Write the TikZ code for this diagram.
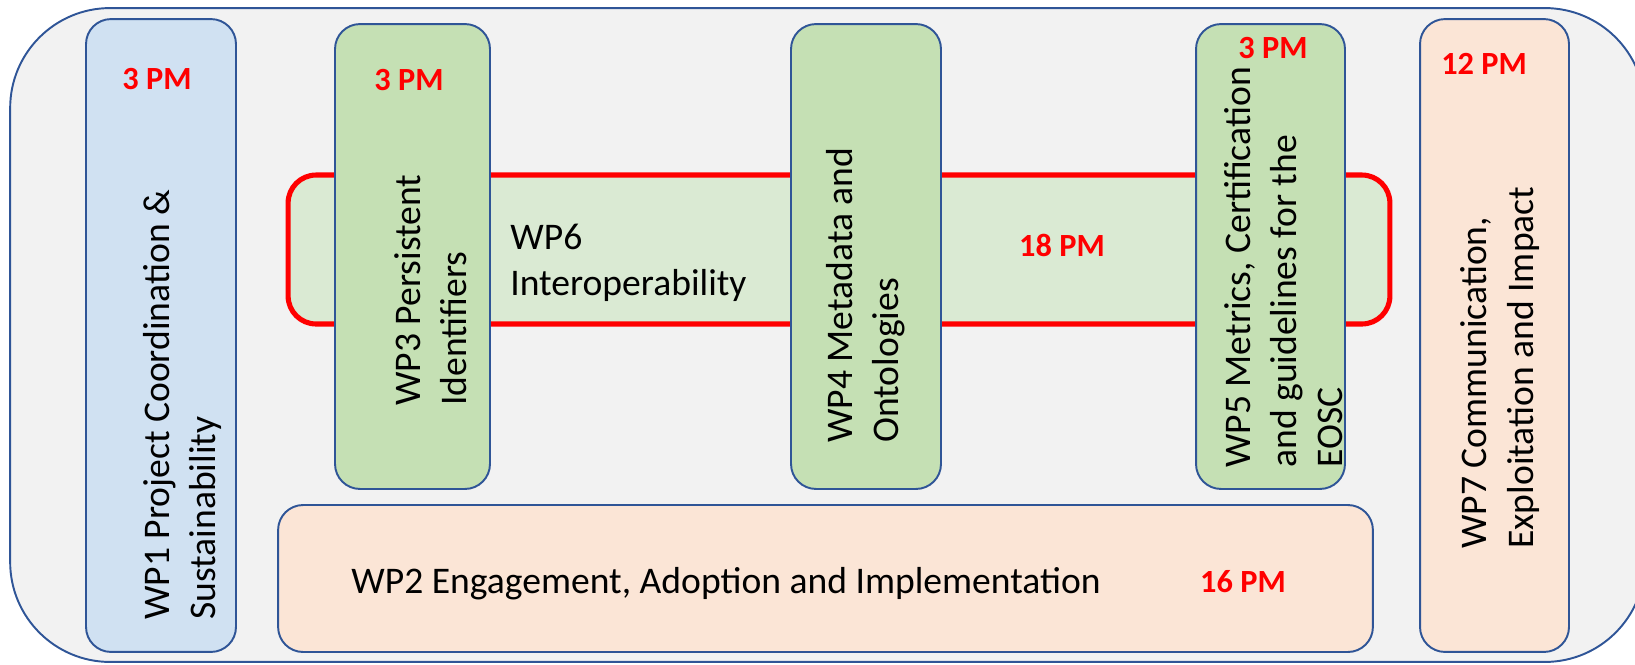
\documentclass[tikz,border=0pt]{standalone}
\usepackage{fontspec}
\setmainfont{Carlito}
\usetikzlibrary{positioning}
\definecolor{wpline}{RGB}{47,85,151}
\definecolor{wpback}{RGB}{242,242,242}
\definecolor{wpblue}{RGB}{208,225,242}
\definecolor{wpgreen}{RGB}{197,224,180}
\definecolor{wplight}{RGB}{218,234,211}
\definecolor{wporange}{RGB}{251,229,214}
\tikzset{
    wpbox/.style={
    rectangle,rounded corners=0.5cm,draw=wpline,line width=1.1pt,inner sep=0pt
    },
    wpframe/.style={
    rectangle,rounded corners=0.56cm,draw=red,line width=2.9pt,inner sep=0pt,fill=wplight
    },
    wptext/.style={
    inner sep=0pt,align=left,font=\fontsize{21.4}{26.2}\selectfont
    },
    vtext/.style={
    wptext,rotate=90,anchor=west
    },
    pm/.style={
    inner sep=0pt,text=red,font=\fontsize{18.4}{22}\selectfont\bfseries
    },
}
\begin{document}
\begin{tikzpicture}[x=0.02cm,y=-0.02cm]
  \useasboundingbox (0,0) rectangle (1635,664);
  \clip (0,0) rectangle (1635,664);
  % frame round everything
  \node[wpbox,fill=wpback,rounded corners=2cm,minimum width=32.7cm,minimum height=13.08cm] (all) at (827.5,335) {};
  % side packages
  \node[wpbox,fill=wpblue,minimum width=3cm,minimum height=12.66cm] (wp1) at (161,335.5) {};
  \node[wpbox,fill=wporange,minimum width=2.98cm,minimum height=12.66cm] (wp7) at (1494.5,335.5) {};
  \node[wpbox,fill=wporange,minimum width=21.9cm,minimum height=2.94cm] (wp2) at (825.5,578.5) {};
  % WP6 behind the columns
  \node[wpframe,minimum width=22.04cm,minimum height=2.98cm] (wp6) at (839,249.5) {};
  \node[wpbox,fill=wpgreen,minimum width=3.1cm,minimum height=9.3cm] (wp3) at (412.5,256.5) {};
  \node[wpbox,fill=wpgreen,minimum width=3cm,minimum height=9.3cm] (wp4) at (866,256.5) {};
  \node[wpbox,fill=wpgreen,minimum width=2.98cm,minimum height=9.3cm] (wp5) at (1270.5,256.5) {};
  % titles
  \node[vtext] (t1) at (182,620) {WP1 Project Coordination \&\\Sustainability};
  \node[vtext] (t3) at (431,406) {WP3 Persistent\\Identifiers};
  \node[vtext] (t4) at (866,443) {WP4 Metadata and\\Ontologies};
  \node[vtext] (t5) at (1284,468) {WP5 Metrics, Certification\\and guidelines for the\\EOSC};
  \node[vtext] (t7) at (1500,549) {WP7 Communication,\\Exploitation and Impact};
  \node[wptext,anchor=west] (t6) at (510,263) {WP6\\Interoperability};
  \node[wptext,anchor=base west] (t2) at (351,593) {WP2 Engagement, Adoption and Implementation};
  % person months
  \node[pm] (pm1) at (157,79) {3 PM};
  \node[pm] (pm3) at (409,80) {3 PM};
  \node[pm] (pm5) at (1273,48) {3 PM};
  \node[pm] (pm7) at (1484,64) {12 PM};
  \node[pm] (pm6) at (1062,245) {18 PM};
  \node[pm] (pm2) at (1243,582) {16 PM};
\end{tikzpicture}
\end{document}
